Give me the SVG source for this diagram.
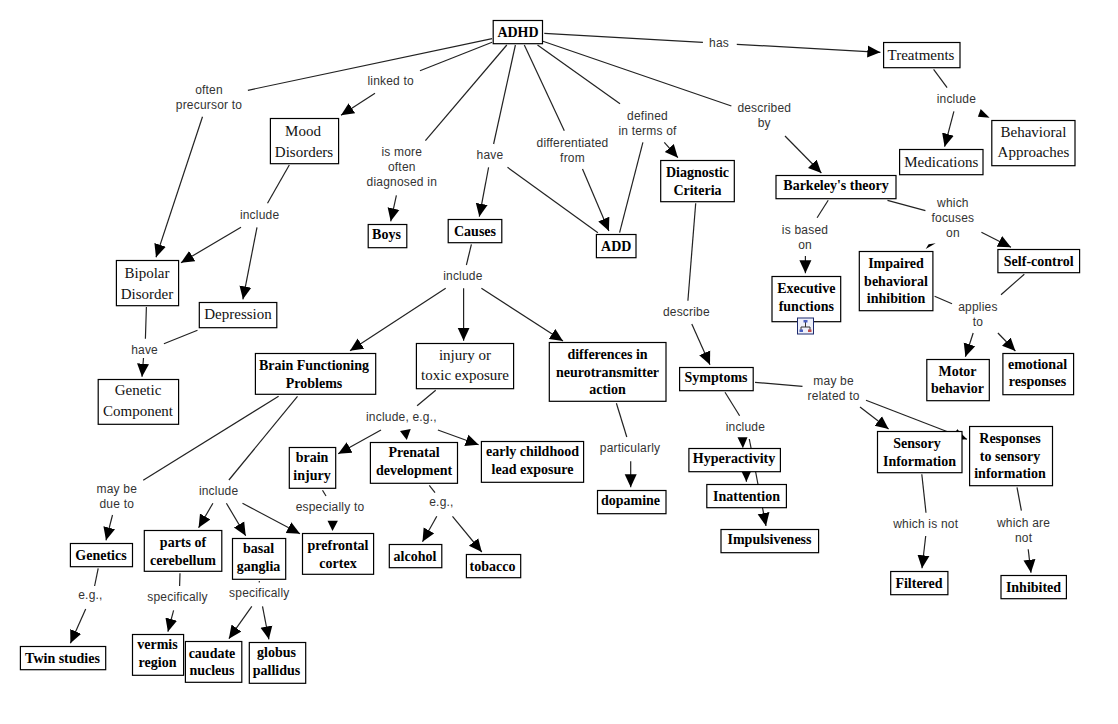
<svg xmlns="http://www.w3.org/2000/svg" width="1118" height="724" viewBox="0 0 1118 724">
<style>
.bg{fill:#fff}
rect.b{fill:#fff;stroke:#000;stroke-width:1.2}
text{text-anchor:middle}
.r{font:15px "Liberation Serif",serif;fill:#111}
.s{font:bold 14px "Liberation Serif",serif;fill:#000}
.l{font:12px "Liberation Sans",sans-serif;fill:#333;letter-spacing:.2px}
#connectors line{stroke:#222;stroke-width:1.2}
line.a{marker-end:url(#h)}
#connectors polygon{fill:#000}
</style>
<defs>
<marker id="h" markerUnits="userSpaceOnUse" markerWidth="14" markerHeight="14" refX="13" refY="6.5" orient="auto"><path d="M0,0.5 L13,6.5 L0,12.5 Z" fill="#000"/></marker>
</defs>
<rect class="bg" width="1118" height="724"/>
<g id="connectors">
<line x1="492.1" y1="38.7" x2="247.9" y2="90.3"/>
<line class="a" x1="202.5" y1="116.7" x2="156" y2="257.3"/>
<line x1="492.1" y1="42.3" x2="420" y2="70.7"/>
<line class="a" x1="375" y1="93.3" x2="341" y2="115.3"/>
<line x1="289.3" y1="165" x2="267.5" y2="203.3"/>
<line class="a" x1="241" y1="227.3" x2="181" y2="262.7"/>
<line class="a" x1="257" y1="227.3" x2="242.9" y2="299.3"/>
<line x1="506.8" y1="45" x2="425.4" y2="140.7"/>
<line class="a" x1="396.4" y1="195.3" x2="390.7" y2="221.3"/>
<line x1="515.4" y1="45" x2="493.6" y2="144"/>
<line class="a" x1="488.6" y1="167.3" x2="479.3" y2="216.7"/>
<line x1="507.5" y1="167.3" x2="597.9" y2="232.7"/>
<line x1="471.4" y1="244.3" x2="466.4" y2="265"/>
<line class="a" x1="445.7" y1="288.3" x2="350" y2="350.7"/>
<line class="a" x1="463.6" y1="288.3" x2="463.6" y2="340.7"/>
<line class="a" x1="481.4" y1="288.3" x2="563" y2="341"/>
<line x1="146.4" y1="307" x2="145.4" y2="338.7"/>
<line x1="197.5" y1="330.3" x2="163.9" y2="343.7"/>
<line class="a" x1="143.5" y1="358" x2="142" y2="376.7"/>
<line x1="524.3" y1="45" x2="564.3" y2="130.7"/>
<line class="a" x1="582.5" y1="169" x2="608.9" y2="231"/>
<line x1="537.5" y1="45" x2="620" y2="103.7"/>
<line x1="642.9" y1="142.3" x2="619.6" y2="232.7"/>
<line class="a" x1="664.3" y1="142.3" x2="677.9" y2="157.7"/>
<line x1="542.9" y1="41.3" x2="731.4" y2="106"/>
<line class="a" x1="785" y1="136" x2="821.4" y2="173"/>
<line x1="544.3" y1="33.3" x2="702.9" y2="42.3"/>
<line class="a" x1="736.8" y1="44.3" x2="880.4" y2="52.3"/>
<line x1="933.6" y1="69.3" x2="947.1" y2="87.7"/>
<line class="a" x1="953.9" y1="111.3" x2="944.6" y2="146.7"/>
<polygon points="980.7,109 977.9,116.7 989.6,117.7"/>
<line x1="828.2" y1="200.3" x2="817.1" y2="217.7"/>
<line class="a" x1="805.4" y1="256" x2="805.4" y2="273.3"/>
<line x1="887.5" y1="200.3" x2="925.4" y2="210.7"/>
<line class="a" x1="981.4" y1="232.3" x2="1011" y2="247.3"/>
<polygon points="925.7,249 935.7,243.3 928.6,244.3"/>
<line x1="695.7" y1="203.3" x2="687.9" y2="300.7"/>
<line class="a" x1="691.8" y1="324" x2="710" y2="364.7"/>
<line x1="1024.3" y1="274.3" x2="1001" y2="294.7"/>
<line x1="934.6" y1="296.3" x2="952" y2="303.7"/>
<line class="a" x1="973.2" y1="333" x2="965.4" y2="356.7"/>
<line class="a" x1="997.9" y1="333" x2="1015.4" y2="351"/>
<line x1="616.4" y1="403.3" x2="626.8" y2="437"/>
<line class="a" x1="630.7" y1="461.3" x2="630.7" y2="487.3"/>
<line x1="755" y1="382.3" x2="802.5" y2="386.3"/>
<line class="a" x1="860" y1="407" x2="888.6" y2="429"/>
<line class="a" x1="866" y1="400.3" x2="967" y2="439.3"/>
<line x1="725" y1="392.3" x2="739.6" y2="415.7"/>
<polygon points="737.5,437.3 747.5,437.3 742.9,448.3"/>
<line class="a" x1="746" y1="450" x2="746.4" y2="481.7"/>
<line class="a" x1="749.3" y1="439" x2="766" y2="526"/>
<line x1="921.8" y1="474.3" x2="926" y2="512.7"/>
<line class="a" x1="925.7" y1="536" x2="922" y2="568.3"/>
<line x1="1017" y1="487.3" x2="1021.4" y2="510.7"/>
<line class="a" x1="1028.2" y1="549.3" x2="1031" y2="572.7"/>
<line x1="278.6" y1="396.3" x2="143.2" y2="480.3"/>
<line class="a" x1="112.5" y1="515" x2="106" y2="540.3"/>
<line x1="98.2" y1="568.3" x2="94.6" y2="586"/>
<line class="a" x1="85.7" y1="609" x2="70.4" y2="643.3"/>
<line x1="297.5" y1="396.3" x2="228.9" y2="480"/>
<line class="a" x1="212.9" y1="503.3" x2="198.6" y2="527.7"/>
<line class="a" x1="226.4" y1="503.3" x2="245.7" y2="535.7"/>
<line class="a" x1="242.5" y1="503.3" x2="300" y2="533.7"/>
<line x1="180" y1="573.3" x2="179.6" y2="586"/>
<line class="a" x1="173.6" y1="610.3" x2="167.9" y2="631.7"/>
<line x1="259.3" y1="581" x2="259.3" y2="582.5"/>
<line class="a" x1="251.8" y1="606.3" x2="228.9" y2="638.7"/>
<line class="a" x1="262.5" y1="606.3" x2="268.9" y2="639.3"/>
<line x1="435.7" y1="390.3" x2="417.1" y2="405.7"/>
<line class="a" x1="381" y1="430" x2="338.2" y2="453.7"/>
<polygon points="400,431 410.7,429 406.8,440"/>
<line class="a" x1="437.9" y1="430" x2="478.6" y2="444.7"/>
<line x1="322.5" y1="490.3" x2="326" y2="496"/>
<polygon points="327.5,520.7 337.9,520.7 332.5,531"/>
<line x1="429.3" y1="485.3" x2="435" y2="492.7"/>
<line class="a" x1="436.8" y1="516.3" x2="422.5" y2="541.7"/>
<line class="a" x1="452.5" y1="516.3" x2="481.8" y2="552"/>
</g>
<g id="n-adhd"><rect class="b" x="493.2" y="20.5" width="49.3" height="23.2"/><text class="s" x="518" y="37">ADHD</text></g>
<g id="n-treatments"><rect class="b" x="883.6" y="42.5" width="76.4" height="25.2"/><text class="r" x="921" y="60">Treatments</text></g>
<g id="n-behavioral"><rect class="b" x="991.8" y="120.5" width="83.2" height="45.2"/><text class="r" x="1033.4" y="137">Behavioral</text><text class="r" x="1033.4" y="157">Approaches</text></g>
<g id="n-medications"><rect class="b" x="899.6" y="149.5" width="83.4" height="25.2"/><text class="r" x="941.3" y="167">Medications</text></g>
<g id="n-diagnostic"><rect class="b" x="660.7" y="160.5" width="73.6" height="41.2"/><text class="s" x="697.5" y="177">Diagnostic</text><text class="s" x="697.5" y="195">Criteria</text></g>
<g id="n-barkeley"><rect class="b" x="776" y="175.5" width="120" height="23.2"/><text class="s" x="836" y="190">Barkeley's theory</text></g>
<g id="n-add"><rect class="b" x="596.4" y="234.5" width="39.6" height="23.2"/><text class="s" x="616.2" y="251">ADD</text></g>
<g id="n-executive"><rect class="b" x="772" y="276.5" width="68.7" height="45.2"/><text class="s" x="806.3" y="293">Executive</text><text class="s" x="806.3" y="311">functions</text>
<rect x="797.5" y="318" width="16" height="16" fill="#eef0fa" stroke="#1d2a6e" stroke-width="1"/><path d="M805.5,321.5V325M801,330V327H810V330M805.5,325V327" fill="none" stroke="#333" stroke-width="1"/><rect x="803.5" y="320" width="4" height="2.5" fill="#4a5fc0"/><rect x="799.5" y="329.5" width="3.5" height="2.5" fill="#4a5fc0"/><rect x="808" y="329.5" width="3.5" height="2.5" fill="#c04a4a"/></g>
<g id="n-impaired"><rect class="b" x="859.3" y="251.5" width="73.6" height="59.2"/><text class="s" x="896" y="268">Impaired</text><text class="s" x="896" y="286">behavioral</text><text class="s" x="896" y="303">inhibition</text></g>
<g id="n-selfcontrol"><rect class="b" x="997.9" y="249.5" width="81.7" height="23.2"/><text class="s" x="1038.7" y="266">Self-control</text></g>
<g id="n-mood"><rect class="b" x="270.4" y="118.5" width="68.2" height="45.2"/><text class="r" x="303" y="136">Mood</text><text class="r" x="304" y="157">Disorders</text></g>
<g id="n-bipolar"><rect class="b" x="116.4" y="260.5" width="62.2" height="45.2"/><text class="r" x="147" y="278">Bipolar</text><text class="r" x="147" y="299">Disorder</text></g>
<g id="n-depression"><rect class="b" x="199.3" y="302.5" width="77.5" height="25.2"/><text class="r" x="238" y="319">Depression</text></g>
<g id="n-boys"><rect class="b" x="368.2" y="224.5" width="38.6" height="23.2"/><text class="s" x="386.5" y="239">Boys</text></g>
<g id="n-causes"><rect class="b" x="448.2" y="219.5" width="53.6" height="23.2"/><text class="s" x="475" y="236">Causes</text></g>
<g id="n-injury"><rect class="b" x="416.4" y="343.5" width="97.2" height="45.2"/><text class="r" x="465" y="360">injury or</text><text class="r" x="465" y="380">toxic exposure</text></g>
<g id="n-brain"><rect class="b" x="255.4" y="353.5" width="120.3" height="40.8"/><text class="s" x="314" y="370">Brain Functioning</text><text class="s" x="314" y="388">Problems</text></g>
<g id="n-differences"><rect class="b" x="549.3" y="342.5" width="116.7" height="58.8"/><text class="s" x="607.5" y="359">differences in</text><text class="s" x="607.5" y="377">neurotransmitter</text><text class="s" x="607.5" y="394">action</text></g>
<g id="n-genetic"><rect class="b" x="98.2" y="379.5" width="80.4" height="44.8"/><text class="r" x="138" y="395">Genetic</text><text class="r" x="138" y="416">Component</text></g>
<g id="n-braininjury"><rect class="b" x="289.3" y="447.5" width="46.4" height="40.8"/><text class="s" x="312" y="462">brain</text><text class="s" x="312" y="480">injury</text></g>
<g id="n-prenatal"><rect class="b" x="370.4" y="442.5" width="87.1" height="40.8"/><text class="s" x="414" y="457">Prenatal</text><text class="s" x="414" y="475">development</text></g>
<g id="n-early"><rect class="b" x="481.4" y="441.5" width="102.2" height="40.8"/><text class="s" x="532.5" y="456">early childhood</text><text class="s" x="532.5" y="474">lead exposure</text></g>
<g id="n-genetics"><rect class="b" x="70.4" y="543.5" width="62.1" height="23.2"/><text class="s" x="101" y="560">Genetics</text></g>
<g id="n-parts"><rect class="b" x="144.3" y="530.5" width="77.5" height="40.8"/><text class="s" x="183" y="547">parts of</text><text class="s" x="183" y="565">cerebellum</text></g>
<g id="n-basal"><rect class="b" x="232.5" y="538.5" width="53.2" height="40.8"/><text class="s" x="258.5" y="553">basal</text><text class="s" x="258.5" y="571">ganglia</text></g>
<g id="n-prefrontal"><rect class="b" x="302.5" y="533.5" width="71.1" height="40.8"/><text class="s" x="338" y="550">prefrontal</text><text class="s" x="338" y="568">cortex</text></g>
<g id="n-alcohol"><rect class="b" x="389.3" y="544.5" width="52.5" height="23.2"/><text class="s" x="415" y="561">alcohol</text></g>
<g id="n-tobacco"><rect class="b" x="466.4" y="554.5" width="54.3" height="23.2"/><text class="s" x="492.5" y="571">tobacco</text></g>
<g id="n-twin"><rect class="b" x="20.4" y="646.5" width="85.3" height="23.2"/><text class="s" x="62.5" y="663">Twin studies</text></g>
<g id="n-vermis"><rect class="b" x="132.5" y="634.5" width="51.1" height="40.8"/><text class="s" x="157.5" y="649">vermis</text><text class="s" x="157.5" y="667">region</text></g>
<g id="n-caudate"><rect class="b" x="185.4" y="641.5" width="56.4" height="40.8"/><text class="s" x="212" y="658">caudate</text><text class="s" x="212" y="675">nucleus</text></g>
<g id="n-globus"><rect class="b" x="249.3" y="642.5" width="56.4" height="40.8"/><text class="s" x="276.5" y="657">globus</text><text class="s" x="276.5" y="675">pallidus</text></g>
<g id="n-dopamine"><rect class="b" x="597.5" y="490.5" width="68.5" height="23.2"/><text class="s" x="630.5" y="505">dopamine</text></g>
<g id="n-symptoms"><rect class="b" x="679.6" y="367.5" width="73.6" height="23.2"/><text class="s" x="716" y="382">Symptoms</text></g>
<g id="n-hyperactivity"><rect class="b" x="688.9" y="448.5" width="91.5" height="23.2"/><text class="s" x="734" y="463">Hyperactivity</text></g>
<g id="n-inattention"><rect class="b" x="706.8" y="484.5" width="79.6" height="23.2"/><text class="s" x="746.5" y="501">Inattention</text></g>
<g id="n-impulsiveness"><rect class="b" x="721" y="529.5" width="97.6" height="23.2"/><text class="s" x="769.5" y="544">Impulsiveness</text></g>
<g id="n-sensory"><rect class="b" x="877.5" y="431.5" width="84.5" height="41.2"/><text class="s" x="917" y="448">Sensory</text><text class="s" x="919.5" y="466">Information</text></g>
<g id="n-responses"><rect class="b" x="969.6" y="426.5" width="82.9" height="59.2"/><text class="s" x="1010" y="443">Responses</text><text class="s" x="1010" y="461">to sensory</text><text class="s" x="1010" y="478">information</text></g>
<g id="n-filtered"><rect class="b" x="890.7" y="571.5" width="57.2" height="23.2"/><text class="s" x="919" y="588">Filtered</text></g>
<g id="n-inhibited"><rect class="b" x="1001" y="575.5" width="65.4" height="23.2"/><text class="s" x="1033.5" y="592">Inhibited</text></g>
<g id="n-motor"><rect class="b" x="926.8" y="359.5" width="62.5" height="41.2"/><text class="s" x="957.5" y="376">Motor</text><text class="s" x="957.5" y="393">behavior</text></g>
<g id="n-emotional"><rect class="b" x="1002.9" y="353.5" width="70.7" height="41.2"/><text class="s" x="1037.5" y="369">emotional</text><text class="s" x="1037.5" y="386">responses</text></g>
<g id="labels">
<text class="l" x="209" y="94">often</text><text class="l" x="209" y="109">precursor to</text>
<text class="l" x="390.7" y="85">linked to</text>
<text class="l" x="259.6" y="219">include</text>
<text class="l" x="401.8" y="156">is more</text><text class="l" x="401.8" y="171">often</text><text class="l" x="401.8" y="186">diagnosed in</text>
<text class="l" x="490" y="159">have</text>
<text class="l" x="572.5" y="147">differentiated</text><text class="l" x="572.5" y="162">from</text>
<text class="l" x="647.5" y="120">defined</text><text class="l" x="647.5" y="135">in terms of</text>
<text class="l" x="764.3" y="112">described</text><text class="l" x="764.3" y="127">by</text>
<text class="l" x="719" y="47">has</text>
<text class="l" x="956.4" y="103">include</text>
<text class="l" x="805" y="234">is based</text><text class="l" x="805" y="249">on</text>
<text class="l" x="952.9" y="207">which</text><text class="l" x="952.9" y="222">focuses</text><text class="l" x="952.9" y="237">on</text>
<text class="l" x="686.4" y="316">describe</text>
<text class="l" x="977.9" y="311">applies</text><text class="l" x="977.9" y="326">to</text>
<text class="l" x="462.9" y="280">include</text>
<text class="l" x="144.6" y="354">have</text>
<text class="l" x="401.4" y="421">include, e.g.,</text>
<text class="l" x="116.8" y="493">may be</text><text class="l" x="116.8" y="508">due to</text>
<text class="l" x="218.6" y="495">include</text>
<text class="l" x="330" y="511">especially to</text>
<text class="l" x="441.4" y="506">e.g.,</text>
<text class="l" x="90.4" y="599">e.g.,</text>
<text class="l" x="177.5" y="601">specifically</text>
<text class="l" x="259.3" y="597">specifically</text>
<text class="l" x="630" y="452">particularly</text>
<text class="l" x="745.4" y="431">include</text>
<text class="l" x="833.6" y="385">may be</text><text class="l" x="833.6" y="400">related to</text>
<text class="l" x="925.7" y="528">which is not</text>
<text class="l" x="1023.6" y="527">which are</text><text class="l" x="1023.6" y="542">not</text>
</g>
</svg>
